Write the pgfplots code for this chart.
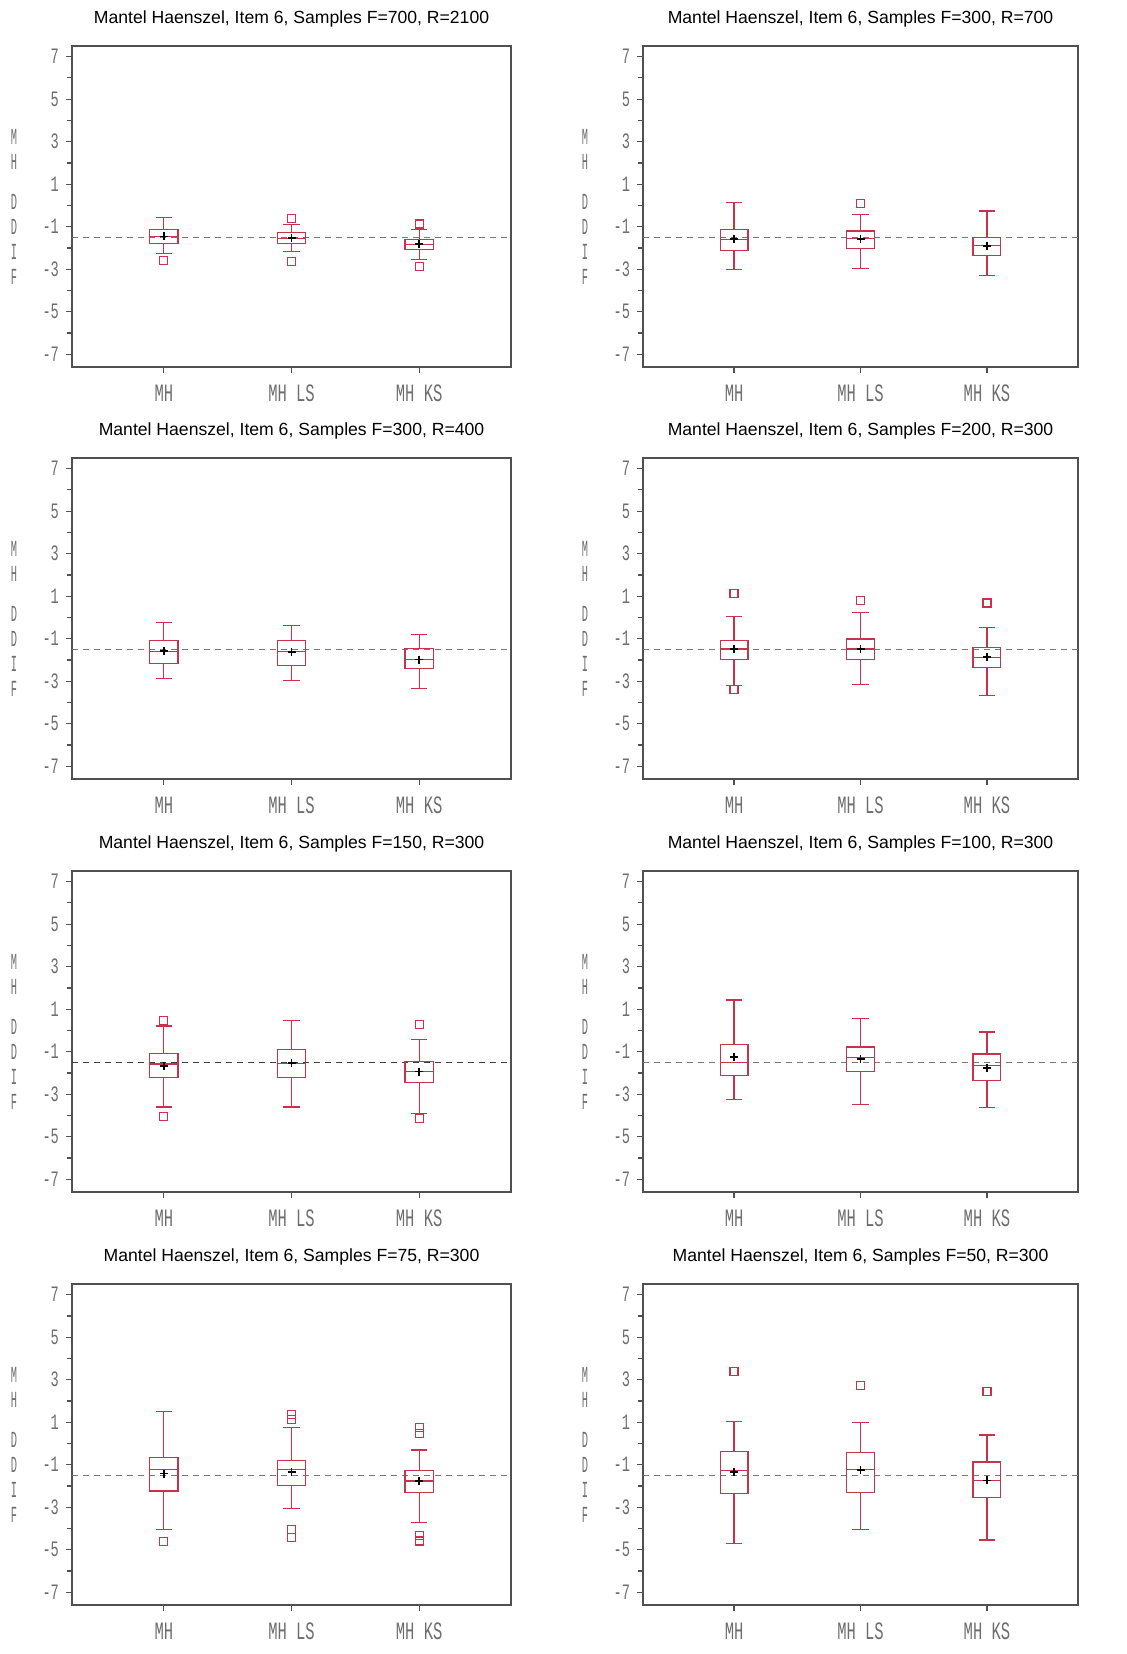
\documentclass[border=0pt]{standalone}
\usepackage{fontspec}
\setmainfont{Liberation Sans}
\newfontfamily\tickfont{Liberation Mono}[FakeStretch=0.62]
\newfontfamily\labfont{Liberation Mono}[FakeStretch=0.45]
\usepackage{pgfplots}
\pgfplotsset{compat=1.18}
\usepgfplotslibrary{statistics}
\definecolor{boxred}{RGB}{200,50,75}
\definecolor{axgray}{RGB}{80,80,80}
\definecolor{tickgray}{RGB}{110,110,110}
\definecolor{refgray}{RGB}{120,120,120}
\pgfplotsset{
 panel/.style={
  anchor=north west, scale only axis, height=160.5pt,
  xmin=-0.72, xmax=2.72, ymin=-7.6, ymax=7.5,
  xtick={0,1,2}, xticklabels={MH,MH LS,MH KS},
  ytick={-7,-5,-3,-1,1,3,5,7}, yticklabels={-7,-5,-3,-1,1,3,5,7},
  minor ytick={-6,-4,-2,0,2,4,6},
  tick align=outside, xtick pos=bottom, ytick pos=left,
  axis line style={draw=axgray, line width=0.7pt},
  tick style={draw=axgray, line width=0.6pt},
  major tick length=3pt, minor tick length=2.5pt,
  xticklabel style={font=\tickfont\fontsize{12.5}{12.5}\selectfont, text=tickgray, yshift=-2.5pt},
  yticklabel style={font=\tickfont\fontsize{11}{11}\selectfont, text=tickgray},
  title style={font=\fontsize{8.8}{10}\selectfont},
  ylabel={M\\H\\[7.5pt]D\\D\\I\\F},
  every axis y label/.style={at={(axis description cs:0,0.5)}, anchor=center, xshift=-29pt, align=center, font=\labfont\fontsize{11.5}{12.5}\selectfont, text=tickgray},
  boxplot/draw direction=y,
  boxplot/box extend=0.22, boxplot/whisker extend=0.13,
 },
 bx/.style={draw=boxred, line width=0.6pt, solid, mark=none},
 out/.style={only marks, mark=square, mark size=2pt, draw=boxred, mark options={draw=boxred, line width=0.6pt}},
 avg/.style={only marks, mark=+, mark size=2pt, black, mark options={line width=0.8pt}},
 ref/.style={draw=refgray, dash pattern=on 3pt off 2.5pt, line width=0.7pt},
}
\newcommand\bx[6]{\addplot[bx, boxplot prepared={draw position=#1, lower whisker=#2, lower quartile=#3, median=#4, upper quartile=#5, upper whisker=#6}] coordinates {};}
\begin{document}
\begin{tikzpicture}
\useasboundingbox (0,0) rectangle (563.5pt,-827pt);
% Panel 1
\begin{axis}[panel, width=219.5pt, at={(36pt,-23pt)}, title={Mantel Haenszel, Item 6, Samples F=700, R=2100}]
\addplot[ref] coordinates {(-0.72,-1.5) (2.72,-1.5)};
\bx{0}{-2.25}{-1.78}{-1.46}{-1.15}{-0.55}
\bx{1}{-2.17}{-1.78}{-1.54}{-1.26}{-0.90}
\bx{2}{-2.53}{-2.06}{-1.82}{-1.59}{-1.15}
\addplot[out] coordinates {(0,-2.6) (1,-0.63) (1,-2.64) (2,-0.87) (2,-2.87)};
\addplot[avg] coordinates {(0,-1.46) (1,-1.54) (2,-1.82)};
\end{axis}
% Panel 2
\begin{axis}[panel, width=217.5pt, at={(321.5pt,-23pt)}, title={Mantel Haenszel, Item 6, Samples F=300, R=700}]
\addplot[ref] coordinates {(-0.72,-1.5) (2.72,-1.5)};
\bx{0}{-3.00}{-2.12}{-1.59}{-1.12}{0.13}
\bx{1}{-2.95}{-2.04}{-1.57}{-1.20}{-0.41}
\bx{2}{-3.28}{-2.36}{-1.90}{-1.51}{-0.26}
\addplot[out] coordinates {(1,0.10)};
\addplot[avg] coordinates {(0,-1.59) (1,-1.57) (2,-1.90)};
\end{axis}
% Panel 3
\begin{axis}[panel, width=219.5pt, at={(36pt,-229pt)}, title={Mantel Haenszel, Item 6, Samples F=300, R=400}]
\addplot[ref] coordinates {(-0.72,-1.5) (2.72,-1.5)};
\bx{0}{-2.87}{-2.17}{-1.59}{-1.09}{-0.23}
\bx{1}{-2.97}{-2.25}{-1.62}{-1.09}{-0.38}
\bx{2}{-3.36}{-2.42}{-1.98}{-1.46}{-0.81}
\addplot[avg] coordinates {(0,-1.59) (1,-1.62) (2,-1.98)};
\end{axis}
% Panel 4
\begin{axis}[panel, width=217.5pt, at={(321.5pt,-229pt)}, title={Mantel Haenszel, Item 6, Samples F=200, R=300}]
\addplot[ref] coordinates {(-0.72,-1.5) (2.72,-1.5)};
\bx{0}{-3.19}{-1.98}{-1.48}{-1.09}{0.06}
\bx{1}{-3.16}{-1.98}{-1.48}{-1.01}{0.24}
\bx{2}{-3.67}{-2.34}{-1.87}{-1.43}{-0.46}
\addplot[out] coordinates {(0,1.11) (0,-3.39) (1,0.79) (2,0.68)};
\addplot[avg] coordinates {(0,-1.48) (1,-1.48) (2,-1.87)};
\end{axis}
% Panel 5
\begin{axis}[panel, width=219.5pt, at={(36pt,-435.5pt)}, title={Mantel Haenszel, Item 6, Samples F=150, R=300}]
\addplot[ref, draw=black!75] coordinates {(-0.72,-1.5) (2.72,-1.5)};
\bx{0}{-3.60}{-2.21}{-1.58}{-1.07}{0.21}
\bx{1}{-3.60}{-2.21}{-1.54}{-0.91}{0.48}
\bx{2}{-3.90}{-2.45}{-1.94}{-1.45}{-0.42}
\addplot[out] coordinates {(0,0.48) (0,-4.03) (2,0.28) (2,-4.16)};
\addplot[avg] coordinates {(0,-1.66) (1,-1.54) (2,-1.94)};
\end{axis}
% Panel 6
\begin{axis}[panel, width=217.5pt, at={(321.5pt,-435.5pt)}, title={Mantel Haenszel, Item 6, Samples F=100, R=300}]
\addplot[ref] coordinates {(-0.72,-1.5) (2.72,-1.5)};
\bx{0}{-3.23}{-2.11}{-1.50}{-0.67}{1.43}
\bx{1}{-3.47}{-1.93}{-1.26}{-0.78}{0.56}
\bx{2}{-3.63}{-2.37}{-1.64}{-1.11}{-0.07}
\addplot[avg] coordinates {(0,-1.26) (1,-1.33) (2,-1.77)};
\end{axis}
% Panel 7
\begin{axis}[panel, width=219.5pt, at={(36pt,-642pt)}, title={Mantel Haenszel, Item 6, Samples F=75, R=300}]
\addplot[ref] coordinates {(-0.72,-1.5) (2.72,-1.5)};
\bx{0}{-4.06}{-2.24}{-1.23}{-0.66}{1.51}
\bx{1}{-3.05}{-1.97}{-1.23}{-0.82}{0.75}
\bx{2}{-3.72}{-2.32}{-1.77}{-1.26}{-0.31}
\addplot[out] coordinates {(0,-4.63) (1,1.35) (1,1.14) (1,-4.06) (1,-4.43) (2,0.76) (2,0.45) (2,-4.32) (2,-4.59)};
\addplot[avg] coordinates {(0,-1.42) (1,-1.34) (2,-1.77)};
\end{axis}
% Panel 8
\begin{axis}[panel, width=217.5pt, at={(321.5pt,-642pt)}, title={Mantel Haenszel, Item 6, Samples F=50, R=300}]
\addplot[ref] coordinates {(-0.72,-1.5) (2.72,-1.5)};
\bx{0}{-4.71}{-2.37}{-1.29}{-0.37}{1.03}
\bx{1}{-4.06}{-2.29}{-1.23}{-0.42}{1.00}
\bx{2}{-4.54}{-2.53}{-1.74}{-0.87}{0.40}
\addplot[out] coordinates {(0,3.40) (1,2.72) (2,2.46)};
\addplot[avg] coordinates {(0,-1.34) (1,-1.26) (2,-1.74)};
\end{axis}
\end{tikzpicture}
\end{document}
